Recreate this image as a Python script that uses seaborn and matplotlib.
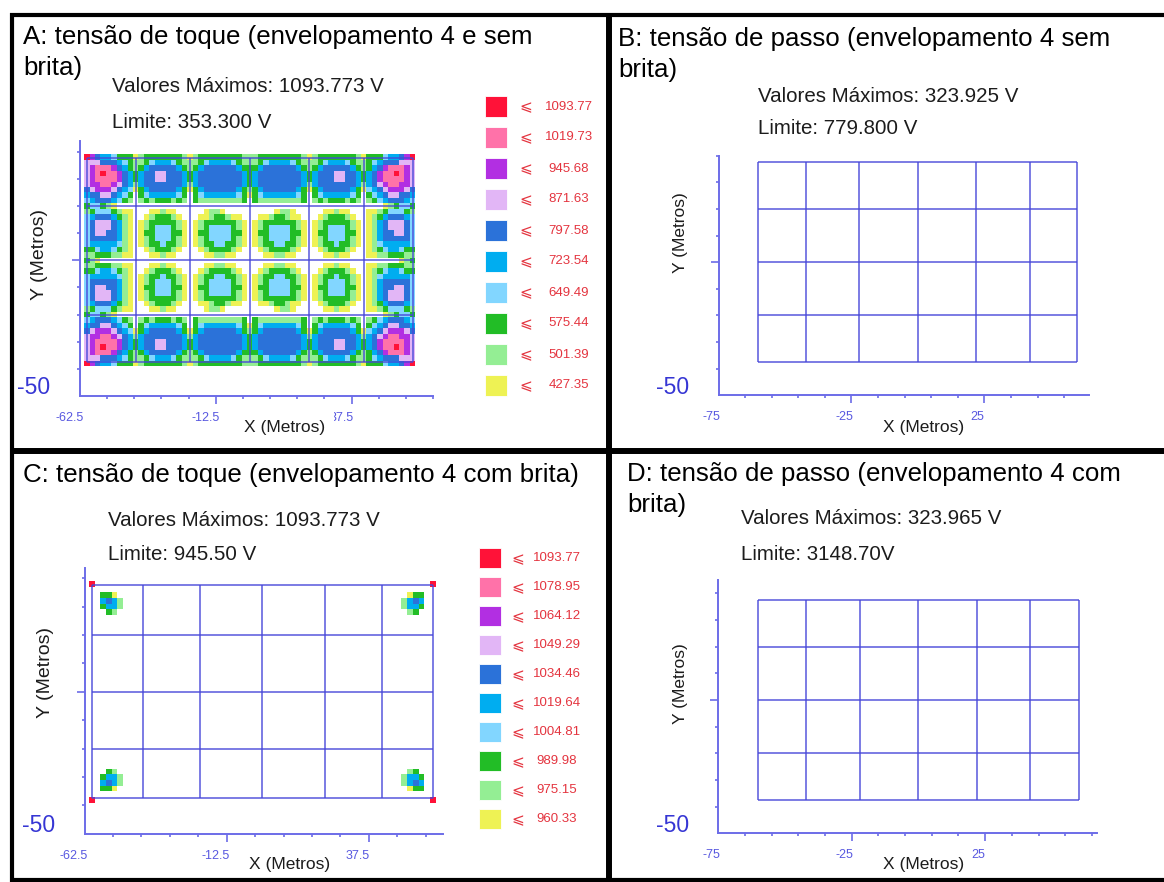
import numpy as np
import matplotlib
matplotlib.use("Agg")
import matplotlib.pyplot as plt
import matplotlib.transforms as mtransforms
from matplotlib.colors import ListedColormap
from matplotlib.lines import Line2D
from matplotlib.patches import Rectangle
import seaborn as sns

sns.set_theme(style="white")
plt.rcParams["font.family"] = ["Liberation Sans", "DejaVu Sans"]

# ---------------------------------------------------------------- data
# Grounding grid conductors (metres)
grid_x = [-60, -42, -22, 0, 22, 42, 60]
grid_y = [-37.5, -20, 0, 20, 37.5]

# Centres of the 2 m calculation cells
cell_x = np.arange(-60, 61, 2)
cell_y = np.arange(38, -39, -2)

# Colour of each voltage band, lowest band first
level_colors = ["#eef254", "#94ee94", "#22bd26", "#82d6ff", "#00adf0",
                "#2b72d9", "#e2b6f6", "#b22fe2", "#ff72a9", "#ff1238"]

# Upper limit of each band (top of the legend first)
legend_toque_sem = [1093.77, 1019.73, 945.68, 871.63, 797.58,
                    723.54, 649.49, 575.44, 501.39, 427.35]
legend_toque_com = [1093.77, 1078.95, 1064.12, 1049.29, 1034.46,
                    1019.64, 1004.81, 989.98, 975.15, 960.33]

# Touch-voltage band of every cell in the upper-left quarter of the grid
# (x from -60 to 0, y from 38 down to 0); '.' = below the lowest band.
toque_sem_brita = [
    "9754432220122222221012222222211",
    "6665554321123444321112344443211",
    "6788875421245555542124555555422",
    "6789887542455665554245555555542",
    "6788887542455665554245555555542",
    "6778876541455555554145555555542",
    "5677765430245555542024555555421",
    "455665432.234444432.23444444320",
    "345554321.121222121.2111111112.",
    "233210.........................",
    "123332100...00100.....0110.....",
    "345554210..0122210...00122100..",
    "356665410.012222210.0122222210.",
    "356665410.012333210.0123333210.",
    "356655410.022333220.0223333220.",
    "355555410.012333210.0123333210.",
    "344444310.012232210.0122332210.",
    "223443210..0122210...01222210..",
    "112221100...00100.....001100...",
    "210............................",
]

toque_com_brita = [
    "9",
    "",
    "..220",
    "..4541",
    "..2441",
    "...21",
]

# Maximum values and limits shown in each panel
valores = {"A": "1093.773 V", "B": "323.925 V", "C": "1093.773 V", "D": "323.965 V"}
limites = {"A": "353.300 V", "B": "779.800 V", "C": "945.50 V", "D": "3148.70V"}

# ---------------------------------------------------------------- helpers
W, H = 1164, 882
fig = plt.figure(figsize=(W / 100, H / 100), dpi=100)
fig.patch.set_facecolor("white")

AXIS_BLUE = "#6c6ce8"
GRID_BLUE = "#4646d8"
TICK_BLUE = "#5858e0"
NEG_BLUE = "#3636d4"
LEG_RED = "#e4343f"
TEXT = "#1c1c1c"

TITLE_SIZE = 18.6
INFO_SIZE = 14.8

cmap = ListedColormap(level_colors)


def unfold(quarter):
    """Mirror the upper-left quarter into the full 39 x 61 field."""
    rows = [r.ljust(31, ".") for r in quarter]
    rows += ["." * 31] * (20 - len(rows))
    rows = [r + r[-2::-1] for r in rows]
    rows = rows + rows[-2::-1]
    return np.array([[np.nan if ch == "." else int(ch) for ch in r] for r in rows])


def ftext(x, y, s, **kw):
    return fig.text(x / W, 1 - y / H, s, **kw)


def fline(x0, y0, x1, y1, lw):
    fig.add_artist(Line2D([x0 / W, x1 / W], [1 - y0 / H, 1 - y1 / H],
                          transform=fig.transFigure, color="black", lw=lw,
                          solid_capstyle="butt", zorder=20))


def field_axes(px0, py0, scale, xlim, ylim):
    w = (xlim[1] - xlim[0]) * scale
    h = (ylim[1] - ylim[0]) * scale
    ax = fig.add_axes([px0 / W, 1 - py0 / H, w / W, h / H])
    ax.set_xlim(*xlim)
    ax.set_ylim(*ylim)
    ax.patch.set_alpha(0)
    for side in ("top", "right"):
        ax.spines[side].set_visible(False)
    for side in ("left", "bottom"):
        ax.spines[side].set_color(AXIS_BLUE)
        ax.spines[side].set_linewidth(1.4)
    return ax


def axis_ticks(ax, x_major, x_minor):
    ax.set_xticks(x_major)
    ax.set_xticks(x_minor, minor=True)
    ax.set_yticks([0])
    ax.set_yticks(np.arange(-40, 41, 10), minor=True)
    ax.set_xticklabels([])
    ax.set_yticklabels([])
    ax.tick_params(which="both", direction="out", color=AXIS_BLUE, width=1.2,
                   bottom=True, left=True)
    ax.tick_params(which="major", length=5.5)
    ax.tick_params(which="minor", length=2.2)


def x_labels(ax, positions, labels, dx):
    for x, s in zip(positions, labels):
        tr = ax.transData + mtransforms.ScaledTranslation(
            dx / 100, -22 / 100, fig.dpi_scale_trans)
        ax.text(x, ax.get_ylim()[0], s, transform=tr, ha="center", va="center",
                fontsize=9, color=TICK_BLUE, clip_on=False, zorder=2)
    tr = ax.transData + mtransforms.ScaledTranslation(
        -46 / 100, 8 / 100, fig.dpi_scale_trans)
    ax.text(ax.get_xlim()[0], ax.get_ylim()[0], "-50", transform=tr,
            ha="center", va="center", fontsize=16.5, color=NEG_BLUE, clip_on=False)


def draw_grid(ax):
    ax.vlines(grid_x, grid_y[0], grid_y[-1], colors=GRID_BLUE, lw=1.1,
              alpha=0.9, zorder=3)
    ax.hlines(grid_y, grid_x[0], grid_x[-1], colors=GRID_BLUE, lw=1.1,
              alpha=0.9, zorder=3)


def draw_field(ax, levels):
    x0, x1 = cell_x[0] - 1, cell_x[-1] + 1
    y0, y1 = cell_y[-1] - 1, cell_y[0] + 1
    hm = ax.inset_axes([x0, y0, x1 - x0, y1 - y0], transform=ax.transData)
    hm.set_zorder(0.5)
    sns.heatmap(levels, ax=hm, cmap=cmap, vmin=-0.5, vmax=len(level_colors) - 0.5,
                mask=np.isnan(levels), cbar=False,
                xticklabels=False, yticklabels=False)
    hm.set_axis_off()


def draw_legend(values, x_sq, y_first, step, sq_h, x_sym, x_num):
    n = len(values)
    for i, v in enumerate(values):
        yc = y_first + i * step
        fig.add_artist(Rectangle((x_sq / W, 1 - (yc + sq_h / 2) / H), 22 / W, sq_h / H,
                                 transform=fig.transFigure,
                                 facecolor=level_colors[n - 1 - i],
                                 edgecolor="white", lw=0.6))
        ftext(x_sym, yc, "\u2a7d", ha="center", va="center", fontsize=11,
              color=LEG_RED, family=["DejaVu Sans"])
        ftext(x_num, yc, f"{v:.2f}", ha="center", va="center", fontsize=9.5,
              color=LEG_RED)


def info(x, y1, y2, key):
    ftext(x, y1, f"Valores Máximos: {valores[key]}", ha="left", va="center",
          fontsize=INFO_SIZE, color=TEXT)
    ftext(x, y2, f"Limite: {limites[key]}", ha="left", va="center",
          fontsize=INFO_SIZE, color=TEXT)


def xlabel(x, y, pad=3.5):
    ftext(x, y, "X (Metros)", ha="center", va="center", fontsize=12.5, color=TEXT,
          zorder=5, bbox=dict(facecolor="white", edgecolor="none", pad=pad))


def ylabel(x, y, size):
    ftext(x, y, "Y (Metros)", ha="center", va="center", rotation=90,
          fontsize=size, color=TEXT)


def title(x, y, lines):
    for k, s in enumerate(lines):
        ftext(x, y + 31 * k, s, ha="left", va="center", fontsize=TITLE_SIZE,
              color="black")


# ---------------------------------------------------------------- A: touch, no gravel
axA = field_axes(80, 396, 2.715, (-62.5, 67.5), (-50, 44))
draw_field(axA, unfold(toque_sem_brita))
draw_grid(axA)
axis_ticks(axA, [-12.5, 37.5], np.arange(-52.5, 68, 10))
x_labels(axA, [-62.5, -12.5, 37.5], ["-62.5", "-12.5", "37.5"], -10)
xlabel(285, 427, pad=6)
ylabel(40, 255, 14)
title(23, 37, ["A: tensão de toque (envelopamento 4 e sem", "brita)"])
info(112, 87, 122, "A")
draw_legend(legend_toque_sem, 485, 106.5, 31.0, 21, 526, 569)

# ---------------------------------------------------------------- B: step, no gravel
axB = field_axes(718.5, 395.1, 2.659, (-75, 64.5), (-50, 40))
draw_grid(axB)
axis_ticks(axB, [-25, 25], np.arange(-65, 60, 10))
x_labels(axB, [-75, -25, 25], ["-75", "-25", "25"], -7)
xlabel(924, 427)
ylabel(681, 233, 12.5)
title(618, 39, ["B: tensão de passo (envelopamento 4 sem", "brita)"])
info(758, 96, 128, "B")

# ---------------------------------------------------------------- C: touch, gravel
axC = field_axes(84.6, 833.9, 2.842, (-62.5, 63.5), (-50, 43.6))
draw_field(axC, unfold(toque_com_brita))
draw_grid(axC)
axis_ticks(axC, [-12.5, 37.5], np.arange(-52.5, 60, 10))
x_labels(axC, [-62.5, -12.5, 37.5], ["-62.5", "-12.5", "37.5"], -11)
xlabel(290, 864)
ylabel(45, 672, 14)
title(23, 475, ["C: tensão de toque (envelopamento 4 com brita)"])
info(108, 520, 555, "C")
draw_legend(legend_toque_com, 479, 558.3, 29.0, 20, 518, 557)

# ---------------------------------------------------------------- D: step, gravel
axD = field_axes(718.4, 833.4, 2.6675, (-75, 67), (-50, 45))
draw_grid(axD)
axis_ticks(axD, [-25, 25], np.arange(-65, 66, 10))
x_labels(axD, [-75, -25, 25], ["-75", "-25", "25"], -7)
xlabel(924, 865)
ylabel(681, 684, 12.5)
title(627, 474, ["D: tensão de passo (envelopamento 4 com", "brita)"])
info(741, 519, 555, "D")

# ---------------------------------------------------------------- panel frames
fline(10, 14.5, W, 14.5, 3.0)
fline(12, 12.5, 12, H, 3.0)
fline(609, 12.5, 609, H, 4.3)
fline(10, 450.5, W, 450.5, 4.3)
fline(10, 880, W, 880, 3.0)

fig.savefig("out.png", dpi=100, facecolor="white")
